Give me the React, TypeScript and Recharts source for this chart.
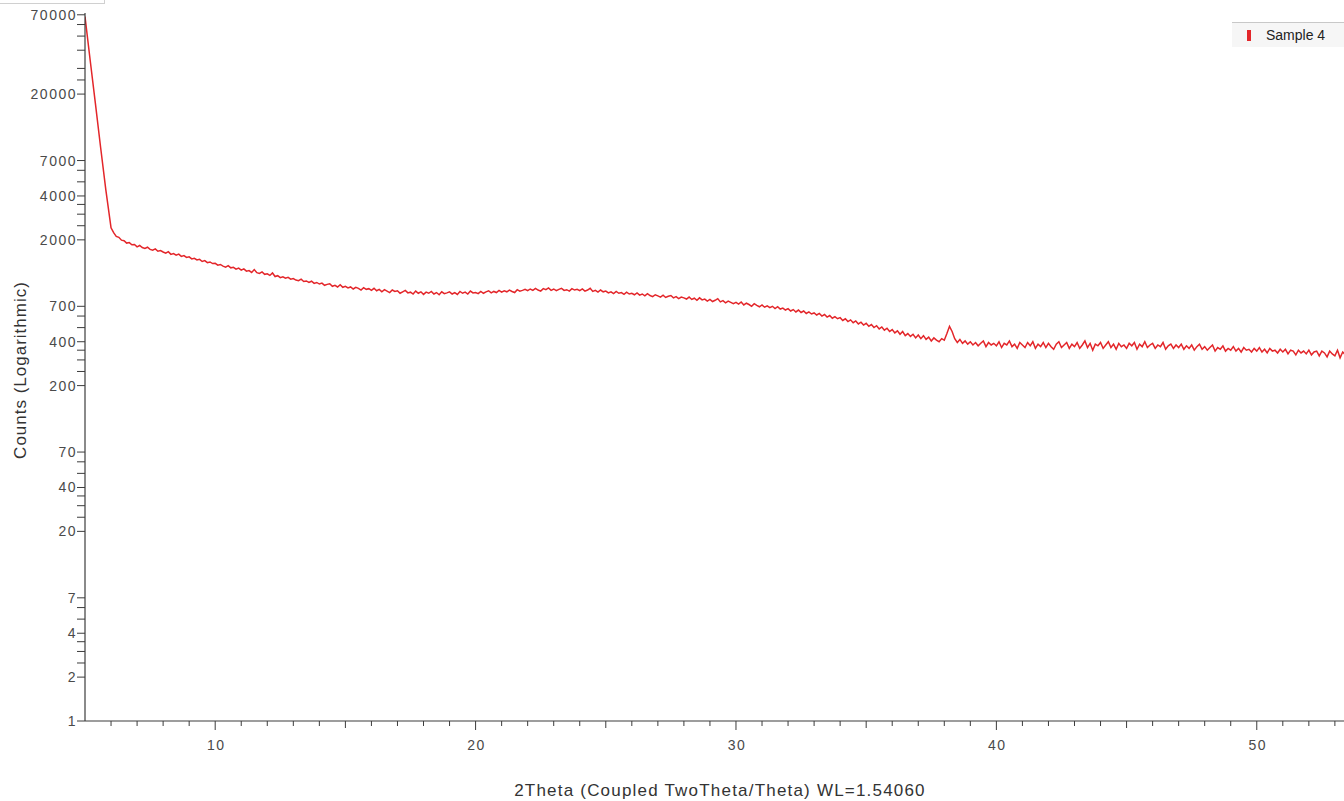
import { Line, LineChart, XAxis, YAxis } from "recharts";

// steep drop at low angle (2θ, counts)
const steepTheta = [5.0, 5.2, 5.4, 5.6, 5.8];
const steepCounts = [68000, 34000, 17200, 8600, 4400];

// scan from 6.0° in 0.1° steps (one row per degree)
const scanStart = 6.0;
const scanStep = 0.1;
const scanCounts = [
  2420, 2240, 2110, 2080, 1990, 1975, 1900, 1915, 1850, 1860,
  1790, 1830, 1770, 1745, 1780, 1720, 1700, 1735, 1670, 1690,
  1650, 1620, 1660, 1590, 1610, 1570, 1595, 1540, 1560, 1515,
  1530, 1480, 1495, 1455, 1470, 1420, 1440, 1395, 1410, 1375,
  1380, 1340, 1355, 1320, 1300, 1330, 1285, 1295, 1260, 1280,
  1240, 1265, 1220, 1230, 1195, 1250, 1190, 1175, 1205, 1160,
  1170, 1140, 1185, 1120, 1135, 1100, 1115, 1090, 1105, 1075,
  1085, 1060, 1050, 1075, 1035, 1045, 1020, 1040, 1005, 1020,
  995, 1010, 975, 990, 1000, 960, 975, 950, 985, 945,
  960, 935, 950, 920, 945, 930, 905, 940, 915, 925,
  900, 930, 895, 915, 880, 910, 890, 870, 905, 885,
  895, 860, 880, 900, 865, 875, 850, 890, 860, 880,
  845, 875, 860, 885, 850, 870, 840, 880, 855, 865,
  880, 850, 870, 845, 885, 860, 875, 850, 890, 865,
  870, 855, 885, 860, 880, 895, 865, 885, 870, 900,
  875, 895, 880, 905, 885, 870, 910, 890, 900, 915,
  895, 920, 900, 930, 905, 890, 925, 910, 935, 900,
  920, 895, 915, 930, 900, 910, 890, 925, 905, 915,
  895, 920, 890, 905, 930, 885, 900, 875, 905, 880,
  890, 865, 880, 855, 885, 860, 870, 845, 875, 850,
  860, 840, 865, 835, 850, 825, 855, 830, 815, 840,
  825, 810, 835, 805, 820, 830, 800, 815, 790, 810,
  800, 785, 810, 780, 795, 770, 800, 775, 785, 760,
  780, 755, 770, 790, 750, 765, 740, 760, 745, 730,
  745, 725, 750, 715, 735, 720, 700, 730, 710, 695,
  715, 690, 705, 685, 700, 675, 695, 670, 680, 660,
  675, 650, 665, 640, 660, 635, 650, 625, 640, 620,
  630, 610, 625, 600, 615, 590, 605, 580, 595, 575,
  585, 560, 575, 550, 565, 540, 555, 530, 545, 520,
  535, 510, 525, 500, 515, 490, 505, 480, 495, 470,
  485, 460, 475, 450, 470, 440, 455, 435, 450, 425,
  445, 420, 440, 415, 430, 405, 425, 410, 400, 420,
  410, 455, 510, 470, 420, 395, 415, 390, 405, 385,
  400, 380, 395, 375, 390, 405, 370, 395, 380, 390,
  375, 400, 365, 390, 380, 405, 370, 385, 360, 395,
  380, 365, 395, 375, 400, 360, 385, 370, 395, 365,
  390, 370, 355, 385, 400, 365, 380, 395, 360, 385,
  370, 395, 360, 380, 405, 365, 390, 350, 385, 375,
  395, 360, 380, 400, 365, 385, 355, 390, 370, 380,
  360, 390, 375, 395, 355, 385, 370, 400, 365, 380,
  390, 360, 380, 370, 395, 355, 375, 385, 360, 380,
  365, 385, 355, 375, 360, 380, 350, 370, 385, 355,
  370, 350, 365, 380, 345, 365, 355, 375, 345, 360,
  350, 370, 345, 360, 340, 365, 350, 355, 340, 360,
  345, 365, 340, 355, 335, 360, 345, 350, 335, 355,
  340, 355, 330, 350, 345, 325, 350, 335, 345, 330,
  350, 325, 340, 345, 320, 345, 335, 315, 345, 330,
  320, 350, 310, 340, 325,
];

const yMajor = [1, 2, 4, 7, 20, 40, 70, 200, 400, 700, 2000, 4000, 7000, 20000, 70000];
const yMinor = [
  2.5, 3, 3.5, 5, 6,
  25, 30, 35, 50, 60,
  250, 300, 350, 500, 600,
  2500, 3000, 3500, 5000, 6000,
  25000, 30000, 40000, 50000, 60000,
];
const xTicks = [
  6, 7, 8, 9, 10, 11, 12, 13, 14, 15, 16, 17, 18, 19, 20, 21, 22, 23, 24, 25, 26, 27, 28, 29,
  30, 31, 32, 33, 34, 35, 36, 37, 38, 39, 40, 41, 42, 43, 44, 45, 46, 47, 48, 49, 50, 51, 52, 53,
];
const xLabeled = [10, 20, 30, 40, 50];

const data = [
  ...steepTheta.map((t, i) => ({ theta: t, counts: steepCounts[i] })),
  ...scanCounts.map((c, i) => ({ theta: +(scanStart + i * scanStep).toFixed(1), counts: c })),
];

const yTicks = [...yMajor, ...yMinor].sort((a, b) => a - b);

const AXIS = "#3c3c3c";
const TEXT = "#4a4a4a";
const RED = "#e3262a";
const FONT = "Arial, 'Liberation Sans', sans-serif";

function YTick({ x, y, payload }: any) {
  const major = yMajor.includes(payload.value);
  return (
    <g>
      <line x1={x - 8} x2={x} y1={y} y2={y} stroke={AXIS} strokeWidth={1} />
      {major && (
        <text
          x={x - 8}
          y={y}
          textAnchor="end"
          dominantBaseline="central"
          fontSize={14}
          letterSpacing={1.5}
          fill={TEXT}
          fontFamily={FONT}
        >
          {payload.value}
        </text>
      )}
    </g>
  );
}

function XTick({ x, y, payload }: any) {
  const v = payload.value;
  const len = v % 10 === 0 ? 9 : v % 5 === 0 ? 7 : 5;
  return (
    <g>
      <line x1={x} x2={x} y1={y} y2={y + len} stroke={AXIS} strokeWidth={1} />
      {xLabeled.includes(v) && (
        <text
          x={x + 1}
          y={y + 24}
          textAnchor="middle"
          dominantBaseline="central"
          fontSize={14}
          letterSpacing={1.5}
          fill={TEXT}
          fontFamily={FONT}
        >
          {v}
        </text>
      )}
    </g>
  );
}

export default function App() {
  return (
    <div style={{ position: "absolute", left: 0, top: 0, width: 1344, height: 801, background: "#fff" }}>
      <div
        style={{
          position: "absolute",
          left: 0,
          top: -2,
          width: 104,
          height: 5,
          borderBottom: "1px solid #d0d0d0",
          borderRight: "1px solid #d0d0d0",
        }}
      />
      <LineChart
        width={1344}
        height={801}
        data={data}
        margin={{ top: 13, right: 0, bottom: 0, left: 0 }}
      >
        <XAxis
          dataKey="theta"
          type="number"
          domain={[5, 53.35]}
          allowDataOverflow
          ticks={xTicks}
          interval={0}
          tickSize={0}
          tickMargin={0}
          tickLine={false}
          tick={<XTick />}
          height={80}
          axisLine={{ stroke: AXIS, strokeWidth: 1.2 }}
          label={{
            content: ({ viewBox }: any) => (
              <text
                x={720}
                y={viewBox.y + 69}
                textAnchor="middle"
                dominantBaseline="central"
                fontSize={17}
                letterSpacing={1.2}
                fill="#333"
                fontFamily={FONT}
              >
                2Theta (Coupled TwoTheta/Theta) WL=1.54060
              </text>
            ),
          }}
        />
        <YAxis
          dataKey="counts"
          scale="log"
          domain={[1, 72000]}
          allowDataOverflow
          ticks={yTicks}
          interval={0}
          tickSize={0}
          tickMargin={0}
          tickLine={false}
          tick={<YTick />}
          width={85}
          axisLine={{ stroke: AXIS, strokeWidth: 1.2 }}
          label={{
            content: ({ viewBox }: any) => {
              const cx = 20;
              const cy = viewBox.y + viewBox.height / 2 + 3;
              return (
                <text
                  x={cx}
                  y={cy}
                  transform={`rotate(-90 ${cx} ${cy})`}
                  textAnchor="middle"
                  dominantBaseline="central"
                  fontSize={17}
                  letterSpacing={1}
                  fill="#333"
                  fontFamily={FONT}
                >
                  Counts (Logarithmic)
                </text>
              );
            },
          }}
        />
        <Line
          type="linear"
          dataKey="counts"
          stroke={RED}
          strokeWidth={1.5}
          dot={false}
          isAnimationActive={false}
        />
      </LineChart>
      <div
        style={{
          position: "absolute",
          top: 22,
          right: 0,
          width: 112,
          height: 24,
          background: "#f6f6f6",
          borderTop: "1px solid #c8c8c8",
          display: "flex",
          alignItems: "center",
          fontFamily: FONT,
          fontSize: 14,
          color: "#222",
        }}
      >
        <span style={{ width: 4, height: 11, background: RED, marginLeft: 15, marginRight: 15 }} />
        <span>Sample 4</span>
      </div>
    </div>
  );
}
